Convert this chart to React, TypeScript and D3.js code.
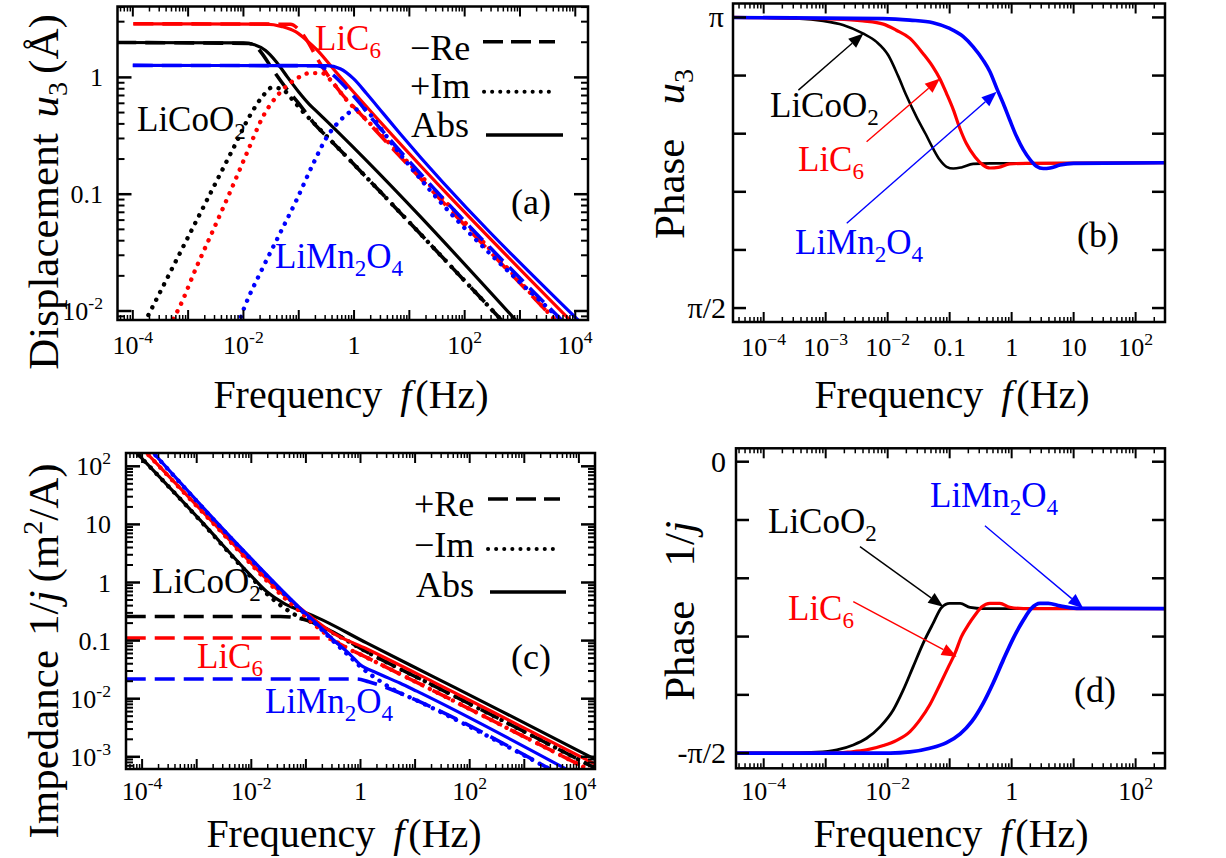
import React from 'react';
import * as d3 from 'd3';

type P = [number, number];

// ---------- (a) displacement u3 : [log10 f (Hz), log10 |u3| (Å)] ----------
const uAbsLiCoO2: P[] = [[-4.3,0.299],[-2.0,0.295],[-1.8,0.28],[-1.6,0.23],[-1.4,0.13],[-1.2,0.0],[-1.0,-0.125],[-0.8,-0.235],[-0.7,-0.28],[3.1,-2.17]];
const uReLiCoO2: P[] = [[-4.3,0.299],[-1.9,0.29],[-1.76,0.259],[-1.67,0.208],[-1.46,0.06],[-1.22,-0.097],[-0.98,-0.235],[-0.74,-0.385],[-0.4,-0.55],[2.75,-2.12]];
const uImLiCoO2: P[] = [[-3.79,-2.1],[-3.69,-2.008],[-3.39,-1.73],[-3.09,-1.45],[-2.785,-1.167],[-2.48,-0.883],[-2.18,-0.604],[-1.88,-0.325],[-1.64,-0.154],[-1.49,-0.088],[-1.31,-0.097],[-1.13,-0.182],[-0.92,-0.296],[-0.74,-0.385],[-0.4,-0.55],[2.75,-2.12]];
const uAbsLiC6: P[] = [[-3.99,0.459],[-1.6,0.456],[-1.3,0.435],[-1.05,0.39],[-0.85,0.315],[-0.67,0.235],[-0.37,0.07],[3.95,-2.10]];
const uReLiC6: P[] = [[-3.99,0.459],[-1.15,0.455],[-1.0,0.41],[-0.83,0.30],[-0.67,0.165],[-0.49,0.03],[-0.25,-0.125],[0.11,-0.31],[3.70,-2.11]];
const uImLiC6: P[] = [[-3.35,-2.13],[-3.18,-1.99],[-2.845,-1.62],[-2.54,-1.30],[-2.24,-0.98],[-1.94,-0.65],[-1.64,-0.33],[-1.34,-0.13],[-1.04,-0.011],[-0.80,0.037],[-0.585,0.037],[-0.37,-0.054],[-0.13,-0.197],[0.11,-0.31],[3.70,-2.11]];
const uAbsLiMn2O4: P[] = [[-4.0,0.1026],[-0.49,0.10],[-0.25,0.074],[-0.01,-0.011],[0.23,-0.14],[0.53,-0.31],[0.83,-0.48],[4.1,-2.10]];
const uReLiMn2O4: P[] = [[-4.0,0.1026],[-0.67,0.10],[-0.37,0.017],[-0.13,-0.097],[0.11,-0.225],[0.35,-0.368],[0.53,-0.467],[3.80,-2.10]];
const uImLiMn2O4: P[] = [[-2.10,-2.12],[-2.0,-1.99],[-1.64,-1.62],[-1.34,-1.336],[-1.04,-1.05],[-0.74,-0.74],[-0.49,-0.51],[-0.25,-0.368],[-0.01,-0.282],[0.17,-0.268],[0.35,-0.35],[0.53,-0.467],[3.80,-2.10]];

// ---------- (b) phase of u3 : [log10 f, phase / π] ----------
const pULiCoO2: P[] = [[-4.5,1.0],[-3.42,0.998],[-3.04,0.994],[-2.72,0.987],[-2.40,0.9725],[-2.18,0.958],[-1.99,0.935],[-1.83,0.899],[-1.70,0.866],[-1.535,0.829],[-1.385,0.799],[-1.27,0.775],[-1.16,0.755],[-1.05,0.743],[-0.94,0.740],[-0.81,0.742],[-0.62,0.748],[-0.35,0.749],[2.48,0.75]];
const pULiC6: P[] = [[-4.5,1.0],[-2.83,0.997],[-2.40,0.994],[-2.07,0.9885],[-1.86,0.978],[-1.64,0.964],[-1.43,0.938],[-1.27,0.915],[-1.16,0.895],[-1.05,0.869],[-0.94,0.841],[-0.835,0.809],[-0.73,0.783],[-0.59,0.760],[-0.46,0.746],[-0.35,0.741],[-0.215,0.742],[-0.03,0.748],[0.24,0.749],[2.48,0.75]];
const pULiMn2O4: P[] = [[-4.5,1.0],[-2.07,0.998],[-1.64,0.9954],[-1.27,0.991],[-1.0,0.981],[-0.78,0.967],[-0.62,0.9495],[-0.46,0.9266],[-0.35,0.9065],[-0.24,0.878],[-0.135,0.852],[-0.03,0.8235],[0.08,0.795],[0.19,0.772],[0.30,0.755],[0.40,0.744],[0.51,0.740],[0.62,0.741],[0.78,0.746],[1.0,0.749],[2.48,0.75]];

// ---------- (c) impedance 1/j : [log10 f, log10 |1/j| (m²/A)] ----------
const zAbsLiCoO2: P[] = [[-4.17,2.30],[-2.94,1.077],[-2.02,0.132],[-1.72,-0.155],[-1.41,-0.354],[-1.108,-0.48],[-0.80,-0.60],[0.11,-1.04],[1.33,-1.62],[2.55,-2.2],[4.35,-3.07]];
const zReLiCoO2: P[] = [[-4.3,-0.584],[-1.47,-0.584],[-1.23,-0.60],[-0.985,-0.65],[-0.62,-0.80],[0.11,-1.19],[1.33,-1.77],[2.55,-2.35],[4.35,-3.22]];
const zImLiCoO2: P[] = [[-4.17,2.30],[-2.94,1.07],[-2.02,0.11],[-1.72,-0.19],[-1.41,-0.43],[-1.108,-0.60],[-0.80,-0.72],[-0.4,-0.92],[0.11,-1.19],[1.33,-1.77],[2.55,-2.35],[4.35,-3.22]];
const zAbsLiC6: P[] = [[-3.99,2.30],[-2.63,0.962],[-1.41,-0.211],[-1.108,-0.44],[-0.80,-0.67],[-0.50,-0.87],[0.11,-1.14],[1.33,-1.71],[2.55,-2.29],[4.35,-3.15]];
const zReLiC6: P[] = [[-4.3,-0.956],[-0.62,-0.956],[-0.5,-1.0],[-0.3,-1.10],[0.11,-1.29],[1.33,-1.86],[2.55,-2.44],[4.35,-3.30]];
const zImLiC6: P[] = [[-3.99,2.30],[-2.63,0.95],[-1.41,-0.25],[-1.108,-0.50],[-0.80,-0.76],[-0.50,-0.98],[-0.3,-1.10],[0.11,-1.29],[1.33,-1.86],[2.55,-2.44],[4.35,-3.30]];
const zAbsLiMn2O4: P[] = [[-3.86,2.30],[-2.33,0.734],[-1.108,-0.44],[-0.80,-0.71],[-0.50,-0.985],[-0.19,-1.24],[-0.01,-1.41],[0.30,-1.557],[0.72,-1.73],[1.03,-1.87],[3.90,-3.28]];
const zReLiMn2O4: P[] = [[-4.3,-1.66],[-0.07,-1.66],[0.15,-1.71],[0.45,-1.80],[1.03,-2.03],[3.60,-3.28]];
const zImLiMn2O4: P[] = [[-3.86,2.30],[-2.33,0.72],[-1.108,-0.46],[-0.80,-0.73],[-0.50,-1.01],[-0.19,-1.28],[0.0,-1.45],[0.3,-1.66],[0.6,-1.84],[1.03,-2.03],[3.60,-3.28]];

// ---------- (d) phase of 1/j : [log10 f, phase / π] ----------
const pJLiCoO2: P[] = [[-4.45,-0.5],[-3.68,-0.5],[-3.145,-0.4985],[-2.82,-0.4945],[-2.555,-0.486],[-2.34,-0.4745],[-2.12,-0.4545],[-1.91,-0.426],[-1.75,-0.392],[-1.59,-0.352],[-1.43,-0.312],[-1.265,-0.277],[-1.13,-0.25],[-1.0,-0.243],[-0.83,-0.243],[-0.67,-0.25],[-0.46,-0.252],[2.48,-0.252]];
const pJLiC6: P[] = [[-4.45,-0.5],[-2.88,-0.5],[-2.61,-0.498],[-2.34,-0.4945],[-2.07,-0.487],[-1.855,-0.478],[-1.64,-0.463],[-1.48,-0.443],[-1.32,-0.417],[-1.16,-0.383],[-1.02,-0.352],[-0.915,-0.329],[-0.81,-0.30],[-0.70,-0.28],[-0.59,-0.263],[-0.48,-0.249],[-0.35,-0.243],[-0.19,-0.243],[-0.03,-0.2497],[0.19,-0.252],[2.48,-0.252]];
const pJLiMn2O4: P[] = [[-4.45,-0.5],[-1.96,-0.5],[-1.64,-0.498],[-1.32,-0.4916],[-1.05,-0.482],[-0.83,-0.467],[-0.645,-0.446],[-0.46,-0.4145],[-0.30,-0.380],[-0.135,-0.340],[0.026,-0.303],[0.19,-0.2716],[0.32,-0.2515],[0.456,-0.243],[0.59,-0.243],[0.78,-0.2475],[1.05,-0.2515],[2.48,-0.252]];

// arrows [tail, head] in data coords (log10 f, phase/π)
const arrowsB: { c: string; from: P; to: P }[] = [
  { c: 'black', from: [-3.44, 0.875], to: [-2.39, 0.9725] },
  { c: 'red', from: [-2.34, 0.786], to: [-1.156, 0.895] },
  { c: 'blue', from: [-2.66, 0.646], to: [-0.242, 0.872] },
];
const arrowsD: { c: string; from: P; to: P }[] = [
  { c: 'black', from: [-2.447, -0.1458], to: [-1.103, -0.2487] },
  { c: 'red', from: [-2.555, -0.240], to: [-0.887, -0.3345] },
  { c: 'blue', from: [-0.431, -0.110], to: [1.155, -0.2515] },
];

// tick labels (exponents of 10 / multiples of π)
const aXLabels = [-4, -2, 0, 2, 4];
const aYLabels = [0, -1, -2];
const bXLabels = [-4, -3, -2, -1, 0, 1, 2];
const cXLabels = [-4, -2, 0, 2, 4];
const cYLabels = [2, 1, 0, -1, -2, -3];
const dXLabels = [-4, -2, 0, 2];
const bYTicks = [0.5, 0.6, 0.7, 0.8, 0.9, 1.0];
const dYTicks = [-0.5, -0.4, -0.3, -0.2, -0.1, 0];

const FONT = "'Liberation Serif','Times New Roman',serif";
const RED = '#ff0000';
const BLUE = '#0000ff';
const BLACK = '#000000';

const TICK_FS = 26;
const TITLE_X_FS = 40;
const TITLE_Y_FS = 43;
const LABEL_FS = 35;
const LEG_FS = 36;

interface Spec { id: string; left: number; right: number; top: number; bottom: number; xExp: [number, number]; yDom: [number, number]; yLog: boolean; }

const SA: Spec = { id: 'a', left: 117.5, right: 588, top: 6.5, bottom: 320, xExp: [-4.277, 4.23], yDom: [-2.077, 0.607], yLog: true };
const SB: Spec = { id: 'b', left: 733, right: 1165, top: 3.5, bottom: 322, xExp: [-4.495, 2.474], yDom: [0.476, 1.024], yLog: false };
const SC: Spec = { id: 'c', left: 126, right: 595, top: 453, bottom: 769, xExp: [-4.295, 4.295], yDom: [-3.21, 2.229], yLog: true };
const SD: Spec = { id: 'd', left: 736, right: 1165, top: 448.3, bottom: 768.3, xExp: [-4.447, 2.474], yDom: [-0.526, 0.023], yLog: false };

function scales(s: Spec) {
  const x = d3.scaleLog().domain([10 ** s.xExp[0], 10 ** s.xExp[1]]).range([s.left, s.right]);
  const yl = d3.scaleLog().domain([10 ** s.yDom[0], 10 ** s.yDom[1]]).range([s.bottom, s.top]);
  const ylin = d3.scaleLinear().domain(s.yDom).range([s.bottom, s.top]);
  const X = (lf: number) => x(10 ** lf);
  const Y = (v: number) => (s.yLog ? yl(10 ** v) : ylin(v));
  return { X, Y };
}

function logTickList(lo: number, hi: number) {
  const out: { e: number; major: boolean }[] = [];
  for (let k = Math.floor(lo); k <= Math.ceil(hi); k++) {
    for (let m = 1; m <= 9; m++) {
      const e = k + Math.log10(m);
      if (e >= lo - 1e-9 && e <= hi + 1e-9) out.push({ e, major: m === 1 });
    }
  }
  return out;
}

function Frame({ s, linY }: { s: Spec; linY?: number[] }) {
  const { X, Y } = scales(s);
  const xt = logTickList(s.xExp[0], s.xExp[1]);
  const lines: JSX.Element[] = [];
  xt.forEach((t, i) => {
    const x = X(t.e);
    const L = t.major ? 10 : 5;
    lines.push(<line key={'xb' + i} x1={x} x2={x} y1={s.bottom} y2={s.bottom - L} stroke="#000" strokeWidth={t.major ? 2 : 1.5} />);
    lines.push(<line key={'xt' + i} x1={x} x2={x} y1={s.top} y2={s.top + L} stroke="#000" strokeWidth={t.major ? 2 : 1.5} />);
  });
  if (s.yLog) {
    const yt = logTickList(s.yDom[0], s.yDom[1]);
    yt.forEach((t, i) => {
      const y = Y(t.e);
      const L = t.major ? 14 : 7;
      lines.push(<line key={'yl' + i} x1={s.left} x2={s.left + L} y1={y} y2={y} stroke="#000" strokeWidth={t.major ? 2.5 : 2} />);
      lines.push(<line key={'yr' + i} x1={s.right} x2={s.right - L} y1={y} y2={y} stroke="#000" strokeWidth={t.major ? 2.5 : 2} />);
    });
  } else if (linY) {
    linY.forEach((v, i) => {
      const y = Y(v);
      lines.push(<line key={'yl' + i} x1={s.left} x2={s.left + 13} y1={y} y2={y} stroke="#000" strokeWidth={2.5} />);
      lines.push(<line key={'yr' + i} x1={s.right} x2={s.right - 13} y1={y} y2={y} stroke="#000" strokeWidth={2.5} />);
    });
  }
  return (
    <g>
      {lines}
      <rect x={s.left} y={s.top} width={s.right - s.left} height={s.bottom - s.top} fill="none" stroke="#000" strokeWidth={2.5} />
    </g>
  );
}

type Style = 'solid' | 'dash' | 'dot';
function Curve({ s, data, color, style, width }: { s: Spec; data: P[]; color: string; style: Style; width?: number }) {
  const { X, Y } = scales(s);
  const gen = d3.line<P>().x(d => X(d[0])).y(d => Y(d[1])).curve(d3.curveMonotoneX);
  const w = width ?? 3.2;
  const props: any = { stroke: color, fill: 'none', strokeWidth: w };
  if (style === 'dash') { props.strokeDasharray = '20 9'; props.strokeWidth = 3.6; }
  if (style === 'dot') { props.strokeDasharray = '0.1 8.5'; props.strokeLinecap = 'round'; props.strokeWidth = 4.4; }
  return <path d={gen(data) || ''} clipPath={`url(#clip-${s.id})`} {...props} />;
}

function Pow({ x, y, e, minus, anchor, size }: { x: number; y: number; e: number; minus: string; anchor: string; size?: number }) {
  const fs = size ?? TICK_FS;
  let body: React.ReactNode;
  if (e === 0) body = '1';
  else if (e === 1) body = '10';
  else if (e === -1) body = '0.1';
  else body = [<tspan key="b">10</tspan>, <tspan key="s" fontSize={fs * 0.68} dy={-fs * 0.42}>{e < 0 ? minus + Math.abs(e) : String(e)}</tspan>];
  return <text x={x} y={y} fontSize={fs} textAnchor={anchor as any}>{body}</text>;
}

function Chem({ x, y, fill, segs, size }: { x: number; y: number; fill: string; segs: [string, boolean][]; size: number }) {
  let prevSub = false;
  const parts = segs.map(([t, sub], i) => {
    let dy = 0;
    if (sub && !prevSub) dy = size * 0.24;
    if (!sub && prevSub) dy = -size * 0.24;
    prevSub = sub;
    return <tspan key={i} dy={dy} fontSize={sub ? size * 0.66 : size}>{t}</tspan>;
  });
  return <text x={x} y={y} fill={fill} fontSize={size}>{parts}</text>;
}

const COO2: [string, boolean][] = [['LiCoO', false], ['2', true]];
const C6: [string, boolean][] = [['LiC', false], ['6', true]];
const MN: [string, boolean][] = [['LiMn', false], ['2', true], ['O', false], ['4', true]];

function Arrow({ s, a }: { s: Spec; a: { c: string; from: P; to: P } }) {
  const { X, Y } = scales(s);
  const x1 = X(a.from[0]), y1 = Y(a.from[1]), x2 = X(a.to[0]), y2 = Y(a.to[1]);
  const ang = Math.atan2(y2 - y1, x2 - x1);
  const L = 15, W = 6;
  const bx = x2 - L * Math.cos(ang), by = y2 - L * Math.sin(ang);
  const px = -Math.sin(ang) * W, py = Math.cos(ang) * W;
  return (
    <g>
      <line x1={x1} y1={y1} x2={bx} y2={by} stroke={a.c} strokeWidth={1.4} />
      <polygon points={`${x2},${y2} ${bx + px},${by + py} ${bx - px},${by - py}`} fill={a.c} />
    </g>
  );
}

function XTitle({ x, y }: { x: number; y: number }) {
  return (
    <text x={x} y={y} fontSize={TITLE_X_FS} textAnchor="middle">
      Frequency<tspan dx={18} fontStyle="italic">f</tspan><tspan dx={4}>(Hz)</tspan>
    </text>
  );
}

export default function App() {
  return (
    <svg width={1226} height={858} style={{ position: 'absolute', left: 0, top: 0, background: '#fff' }} fontFamily={FONT}>
      <defs>
        {[SA, SB, SC, SD].map(s => (
          <clipPath key={s.id} id={`clip-${s.id}`}>
            <rect x={s.left} y={s.top} width={s.right - s.left} height={s.bottom - s.top} />
          </clipPath>
        ))}
      </defs>
      <rect x={0} y={0} width={1226} height={858} fill="#fff" />

      {/* ===== (a) ===== */}
      <g>
        <Curve s={SA} data={uAbsLiCoO2} color={BLACK} style="solid" />
        <Curve s={SA} data={uReLiCoO2} color={BLACK} style="dash" />
        <Curve s={SA} data={uImLiCoO2} color={BLACK} style="dot" />
        <Curve s={SA} data={uAbsLiC6} color={RED} style="solid" />
        <Curve s={SA} data={uReLiC6} color={RED} style="dash" />
        <Curve s={SA} data={uImLiC6} color={RED} style="dot" />
        <Curve s={SA} data={uAbsLiMn2O4} color={BLUE} style="solid" />
        <Curve s={SA} data={uReLiMn2O4} color={BLUE} style="dash" />
        <Curve s={SA} data={uImLiMn2O4} color={BLUE} style="dot" />
        <Frame s={SA} />
        {aXLabels.map(e => <Pow key={e} x={scales(SA).X(e)} y={354} e={e} minus="-" anchor="middle" />)}
        {aYLabels.map(e => <Pow key={e} x={103} y={scales(SA).Y(e) + 9} e={e} minus="-" anchor="end" />)}
        <XTitle x={351} y={408} />
        <text transform="translate(58,192) rotate(-90)" fontSize={TITLE_Y_FS} textAnchor="middle">
          Displacement<tspan dx={16} fontStyle="italic">u</tspan><tspan fontSize={28} dy={9}>3</tspan><tspan dy={-9} dx={8}>(Å)</tspan>
        </text>
        <text x={410} y={60} fontSize={LEG_FS}>−Re</text>
        <text x={410} y={98} fontSize={LEG_FS}>+Im</text>
        <text x={411} y={137} fontSize={LEG_FS}>Abs</text>
        <line x1={483} x2={555} y1={41.7} y2={41.7} stroke="#000" strokeWidth={3.5} strokeDasharray="20 8" />
        <line x1={484} x2={556} y1={91.7} y2={91.7} stroke="#000" strokeWidth={4} strokeDasharray="0.1 8" strokeLinecap="round" />
        <line x1={486} x2={563} y1={135} y2={135} stroke="#000" strokeWidth={3.5} />
        <text x={511} y={214} fontSize={LEG_FS}>(a)</text>
        <Chem x={315} y={50} fill={RED} segs={C6} size={LABEL_FS} />
        <Chem x={137} y={131} fill={BLACK} segs={COO2} size={LABEL_FS} />
        <Chem x={275} y={268} fill={BLUE} segs={MN} size={LABEL_FS} />
      </g>

      {/* ===== (b) ===== */}
      <g>
        <Curve s={SB} data={pULiCoO2} color={BLACK} style="solid" width={2.6} />
        <Curve s={SB} data={pULiC6} color={RED} style="solid" width={3.2} />
        <Curve s={SB} data={pULiMn2O4} color={BLUE} style="solid" width={3.6} />
        <Frame s={SB} linY={bYTicks} />
        {bXLabels.map(e => <Pow key={e} x={scales(SB).X(e)} y={356} e={e} minus="−" anchor="middle" />)}
        <text x={724} y={scales(SB).Y(1) + 10} fontSize={30} textAnchor="end">π</text>
        <text x={726} y={scales(SB).Y(0.5) + 10} fontSize={30} textAnchor="end">π/2</text>
        <XTitle x={952} y={408} />
        <text transform="translate(684,154) rotate(-90)" fontSize={TITLE_Y_FS} textAnchor="middle">
          Phase<tspan dx={34} fontStyle="italic">u</tspan><tspan fontSize={28} dy={9}>3</tspan>
        </text>
        {arrowsB.map((a, i) => <Arrow key={i} s={SB} a={a} />)}
        <Chem x={770} y={117} fill={BLACK} segs={COO2} size={LABEL_FS} />
        <Chem x={798} y={171} fill={RED} segs={C6} size={LABEL_FS} />
        <Chem x={795} y={254} fill={BLUE} segs={MN} size={LABEL_FS} />
        <text x={1077} y={247} fontSize={LEG_FS}>(b)</text>
      </g>

      {/* ===== (c) ===== */}
      <g>
        <Curve s={SC} data={zAbsLiCoO2} color={BLACK} style="solid" />
        <Curve s={SC} data={zReLiCoO2} color={BLACK} style="dash" />
        <Curve s={SC} data={zImLiCoO2} color={BLACK} style="dot" />
        <Curve s={SC} data={zAbsLiC6} color={RED} style="solid" />
        <Curve s={SC} data={zReLiC6} color={RED} style="dash" />
        <Curve s={SC} data={zImLiC6} color={RED} style="dot" />
        <Curve s={SC} data={zAbsLiMn2O4} color={BLUE} style="solid" />
        <Curve s={SC} data={zReLiMn2O4} color={BLUE} style="dash" />
        <Curve s={SC} data={zImLiMn2O4} color={BLUE} style="dot" />
        <Frame s={SC} />
        {cXLabels.map(e => <Pow key={e} x={scales(SC).X(e)} y={800} e={e} minus="-" anchor="middle" />)}
        {cYLabels.map(e => <Pow key={e} x={111} y={scales(SC).Y(e) + 9} e={e} minus="-" anchor="end" />)}
        <XTitle x={344} y={847} />
        <text transform="translate(58,651) rotate(-90)" fontSize={TITLE_Y_FS} textAnchor="middle">
          Impedance<tspan dx={14}>1/</tspan><tspan fontStyle="italic">j</tspan><tspan dx={8}>(m</tspan><tspan fontSize={28} dy={-16}>2</tspan><tspan dy={16}>/A)</tspan>
        </text>
        <text x={414} y={516} fontSize={LEG_FS}>+Re</text>
        <text x={414} y={557} fontSize={LEG_FS}>−Im</text>
        <text x={416} y={597} fontSize={LEG_FS}>Abs</text>
        <line x1={488} x2={560} y1={499} y2={499} stroke="#000" strokeWidth={3.5} strokeDasharray="20 8" />
        <line x1={488} x2={560} y1={549} y2={549} stroke="#000" strokeWidth={4} strokeDasharray="0.1 8" strokeLinecap="round" />
        <line x1={490} x2={566} y1={592} y2={592} stroke="#000" strokeWidth={3.5} />
        <text x={511} y={669} fontSize={LEG_FS}>(c)</text>
        <Chem x={152} y={593} fill={BLACK} segs={COO2} size={LABEL_FS} />
        <Chem x={197} y={668} fill={RED} segs={C6} size={LABEL_FS} />
        <Chem x={265} y={713} fill={BLUE} segs={MN} size={LABEL_FS} />
      </g>

      {/* ===== (d) ===== */}
      <g>
        <Curve s={SD} data={pJLiCoO2} color={BLACK} style="solid" width={2.8} />
        <Curve s={SD} data={pJLiC6} color={RED} style="solid" width={3.2} />
        <Curve s={SD} data={pJLiMn2O4} color={BLUE} style="solid" width={3.8} />
        <Frame s={SD} linY={dYTicks} />
        {dXLabels.map(e => <Pow key={e} x={scales(SD).X(e)} y={800} e={e} minus="−" anchor="middle" />)}
        <text x={726} y={scales(SD).Y(0) + 10} fontSize={30} textAnchor="end">0</text>
        <text x={726} y={scales(SD).Y(-0.5) + 10} fontSize={30} textAnchor="end">-π/2</text>
        <XTitle x={951} y={847} />
        <text transform="translate(694,611) rotate(-90)" fontSize={TITLE_Y_FS} textAnchor="middle">
          Phase<tspan dx={34}>1/</tspan><tspan fontStyle="italic">j</tspan>
        </text>
        {arrowsD.map((a, i) => <Arrow key={i} s={SD} a={a} />)}
        <Chem x={768} y={533} fill={BLACK} segs={COO2} size={LABEL_FS} />
        <Chem x={788} y={620} fill={RED} segs={C6} size={LABEL_FS} />
        <Chem x={930} y={507} fill={BLUE} segs={MN} size={LABEL_FS} />
        <text x={1074} y={702} fontSize={LEG_FS}>(d)</text>
      </g>
    </svg>
  );
}
